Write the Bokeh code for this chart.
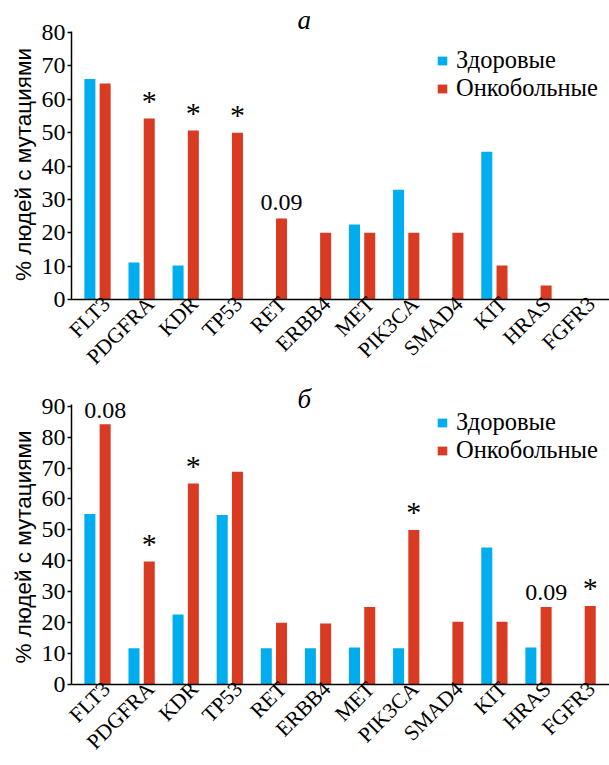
import math
from bokeh.plotting import figure
from bokeh.layouts import column
from bokeh.models import (Range1d, FixedTicker, SingleIntervalTicker, Label,
                          Legend, LegendItem, ColumnDataSource)
from bokeh.transform import dodge
from bokeh.embed import file_html
from bokeh.resources import INLINE

# Genes on the x axis
genes = ["FLT3", "PDGFRA", "KDR", "TP53", "RET", "ERBB4", "MET",
         "PIK3CA", "SMAD4", "KIT", "HRAS", "FGFR3"]

# Panel а: % of people with mutations
healthy_a = [66.1, 11.1, 10.2, 0, 0, 0, 22.5, 32.9, 0, 44.3, 0, 0]
cancer_a = [64.7, 54.2, 50.6, 50.0, 24.3, 20.0, 20.0, 20.0, 20.0, 10.2, 4.2, 0]
notes_a = ["", "*", "*", "*", "0.09", "", "", "", "", "", "", ""]

# Panel б
healthy_b = [55.1, 11.7, 22.6, 54.8, 11.7, 11.7, 12.0, 11.7, 0, 44.3, 12.0, 0]
cancer_b = [84.2, 39.8, 65.0, 68.8, 20.0, 19.7, 25.1, 50.0, 20.3, 20.3, 25.1, 25.4]
notes_b = ["0.08", "*", "*", "", "", "", "", "*", "", "", "0.09", "*"]

series_names = ["Здоровые", "Онкобольные"]
y_title = "% людей с мутациями"
BLUE = "#00AEEF"
RED = "#D83A22"
SERIF = "Liberation Serif"
SANS = "Liberation Sans"
OFFSET = 0.173
BAR_W = 0.25
LABEL_SHIFT = 0.2   # gene names sit a little right of the bar pair
NBSP = "\u00a0"

# page layout in pixels
PAGE_H = 765
TOP = 4            # space above each frame
XAXIS_H = 81       # room taken by the rotated gene names
H_A = 299 + XAXIS_H
H_B = PAGE_H - H_A


def make_panel(tag, healthy, cancer, notes, ymax, height, px_per_unit,
               legend_y, num_dy, tag_dy):
    n = len(genes)
    frame_h = height - TOP - XAXIS_H
    yend = frame_h / px_per_unit
    src = ColumnDataSource(dict(x=list(range(n)), healthy=healthy, cancer=cancer))
    p = figure(width=609, height=height,
               x_range=Range1d(-0.59, n - 0.39), y_range=Range1d(0, yend),
               output_backend="svg", toolbar_location=None,
               min_border_left=71, min_border_right=0,
               min_border_top=TOP, min_border_bottom=60)
    p.outline_line_color = None
    p.xgrid.visible = False
    p.ygrid.visible = False

    r1 = p.vbar(x=dodge("x", -OFFSET, range=p.x_range), top="healthy", width=BAR_W,
                source=src, fill_color=BLUE, line_color=None)
    r2 = p.vbar(x=dodge("x", OFFSET, range=p.x_range), top="cancer", width=BAR_W,
                source=src, fill_color=RED, line_color=None)

    # significance marks above the patient bars
    for i, note in enumerate(notes):
        if not note:
            continue
        star = note == "*"
        p.add_layout(Label(x=i + OFFSET, y=cancer[i], text=note,
                           text_align="center", text_baseline="middle",
                           y_offset=18 if star else num_dy,
                           text_font=SERIF,
                           text_font_size="30px" if star else "24px",
                           text_color="black"))

    # panel letter
    p.add_layout(Label(x=4.69, y=ymax, y_offset=tag_dy, text=tag,
                       text_align="center", text_baseline="middle",
                       text_font=SERIF, text_font_style="italic",
                       text_font_size="27px", text_color="black"))

    legend = Legend(items=[LegendItem(label=series_names[0], renderers=[r1]),
                           LegendItem(label=series_names[1], renderers=[r2])],
                    location=(365, legend_y), orientation="vertical",
                    glyph_width=12, glyph_height=11, label_height=27,
                    label_standoff=8, spacing=0, padding=0, margin=0,
                    border_line_color=None, background_fill_alpha=0,
                    label_text_font=SERIF, label_text_font_size="24.5px",
                    label_text_color="black")
    p.add_layout(legend)

    ax = p.yaxis[0]
    ax.ticker = SingleIntervalTicker(interval=10)
    ax.bounds = (0, ymax + 1.5 / px_per_unit)
    # trailing no-break spaces keep the title centred on the 0..ymax span
    ax.axis_label = y_title + NBSP * 4
    ax.axis_label_text_font = SANS
    ax.axis_label_text_font_size = "22.5px"
    ax.axis_label_text_font_style = "normal"
    ax.axis_label_text_color = "black"
    ax.axis_label_standoff = 3
    ax.major_label_text_font = SERIF
    ax.major_label_text_font_size = "24px"
    ax.major_label_text_color = "black"
    ax.major_label_standoff = 2
    ax.major_tick_out = 4
    ax.major_tick_in = 0
    ax.minor_tick_line_color = None
    ax.axis_line_width = 1.5
    ax.major_tick_line_width = 1.5
    ax.axis_line_color = "black"
    ax.major_tick_line_color = "black"

    xa = p.xaxis[0]
    ticks = [i + LABEL_SHIFT for i in range(n)]
    xa.ticker = FixedTicker(ticks=ticks)
    xa.major_label_overrides = {t: g for t, g in zip(ticks, genes)}
    xa.major_label_orientation = math.pi / 4
    xa.major_label_text_font = SERIF
    xa.major_label_text_font_size = "21.5px"
    xa.major_label_text_line_height = 0.75
    xa.major_label_text_color = "black"
    xa.major_label_standoff = 1
    xa.major_tick_out = 0
    xa.major_tick_in = 0
    xa.minor_tick_line_color = None
    xa.axis_line_width = 1.5
    xa.axis_line_color = "black"
    return p


# panel а: 0..80 spans 267 px; panel б: 90 sits at 405.7 px from the page top
scale_a = 267 / 80
zero_b = H_B - XAXIS_H
scale_b = (zero_b - (405.7 - H_A)) / 90

p_a = make_panel("а", healthy_a, cancer_a, notes_a, 80, H_A, scale_a, 197, 16, 13)
p_b = make_panel("б", healthy_b, cancer_b, notes_b, 90, H_B, scale_b, 220, 14, 7)

layout = column(p_a, p_b, spacing=0)
open("out.html", "w").write(file_html(layout, INLINE))
